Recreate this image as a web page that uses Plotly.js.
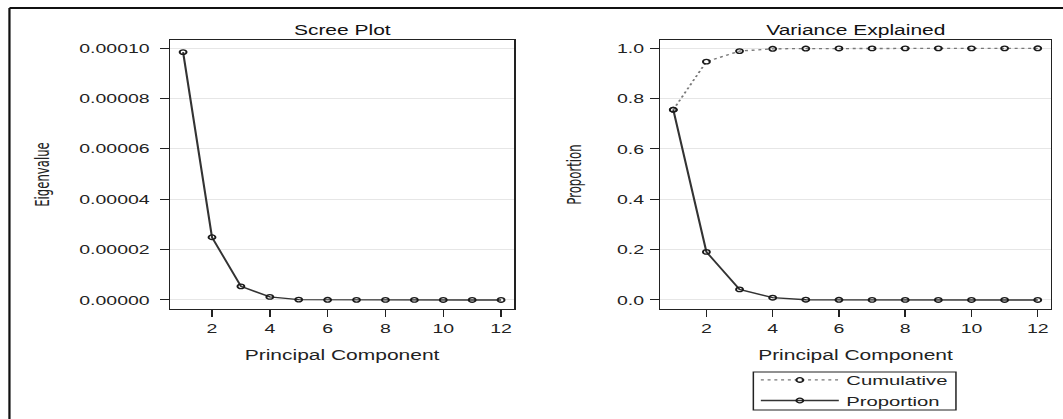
<!DOCTYPE html>
<html>
<head>
<meta charset="utf-8">
<script src="https://cdn.plot.ly/plotly-3.0.1.min.js"></script>
<style>
  html, body { margin: 0; padding: 0; background: #fff; overflow: hidden; }
  #wrap { width: 1063px; height: 419px; overflow: hidden; }
  #chart { width: 709px; height: 419px; transform: scaleX(1.4993); transform-origin: 0 0; }
</style>
</head>
<body>
<div id="wrap"><div id="chart"></div></div>
<script>
// ---- data ----
const components = [1, 2, 3, 4, 5, 6, 7, 8, 9, 10, 11, 12];
const eigenvalues = [0.0000984, 0.0000249, 0.0000054, 0.0000012, 0.00000013, 0.00000006,
                     0.00000003, 0.00000001, 0.000000007, 0.000000003, 0.000000001, 0.0000000005];
const proportion = [0.756, 0.191, 0.042, 0.009, 0.001, 0.0005, 0.0002, 0.0001, 0.00005, 0.00002, 0.00001, 0.0];
const cumulative = [0.756, 0.947, 0.989, 0.998, 0.999, 0.9995, 0.9997, 0.9998, 0.99985, 0.99987, 0.99988, 1.0];
const panelTitles = ['Scree Plot', 'Variance Explained'];
const xTitle = 'Principal Component';
const yTitles = ['Eigenvalue', 'Proportion'];
const seriesNames = ['Cumulative', 'Proportion'];

const FONT = 'Liberation Sans, Arial, sans-serif';
const NARROW = 'Liberation Sans Narrow, Arial Narrow, DejaVu Sans Condensed, Liberation Sans, sans-serif';
const INK = '#222';

const markerStyle = {symbol: 'circle-open', size: 4.6, color: '#1a1a1a', line: {width: 1.3, color: '#1a1a1a'}};

const traces = [
  {x: components, y: eigenvalues, xaxis: 'x', yaxis: 'y', mode: 'lines+markers', showlegend: false,
   line: {color: '#333', width: 1.4}, marker: markerStyle, name: 'Eigenvalue'},
  {x: components, y: cumulative, xaxis: 'x2', yaxis: 'y2', mode: 'lines+markers', name: seriesNames[0],
   line: {color: '#777', width: 1.3, dash: '2px,2.5px'}, marker: markerStyle},
  {x: components, y: proportion, xaxis: 'x2', yaxis: 'y2', mode: 'lines+markers', name: seriesNames[1],
   line: {color: '#333', width: 1.4}, marker: markerStyle}
];

function xAxis(domain, range) {
  return {domain: domain, range: range, tick0: 0, dtick: 2, ticks: 'outside', ticklen: 7, tickwidth: 1,
    tickcolor: INK, showline: true, mirror: true, linecolor: INK, linewidth: 1, showgrid: false,
    zeroline: false, automargin: false, tickfont: {family: FONT, size: 13, color: INK},
    title: {text: xTitle, font: {family: FONT, size: 14, color: INK}, standoff: 15}};
}
function yAxis(domain, range, dtick, fmt, title, standoff, lblStand) {
  return {domain: domain, range: range, dtick: dtick, tickformat: fmt, ticks: 'outside', ticklen: 6,
    tickwidth: 1, tickcolor: INK, showline: true, mirror: true, linecolor: INK, linewidth: 1,
    showgrid: true, gridcolor: '#e6e6e6', gridwidth: 1, zeroline: false, automargin: false,
    ticklabelstandoff: lblStand,
    tickfont: {family: FONT, size: 13, color: INK},
    title: {text: title, font: {family: NARROW, size: 13, color: INK}, standoff: standoff}};
}

const yDom = [0.2625, 0.9045];
const layout = {
  width: 709, height: 419,
  margin: {l: 0, r: 0, t: 0, b: 0},
  paper_bgcolor: '#fff', plot_bgcolor: '#fff',
  font: {family: FONT, color: INK},
  xaxis: xAxis([0.160, 0.4836], [0.55, 12.45]),
  yaxis: yAxis(yDom, [-0.0000036, 0.0001032], 0.00002, '.5f', yTitles[0], 16, 4),
  xaxis2: Object.assign(xAxis([0.6209, 0.9887], [0.6, 12.4]), {anchor: 'y2'}),
  yaxis2: Object.assign(yAxis(yDom, [-0.036, 1.033], 0.2, '.1f', yTitles[1], 20, 1), {anchor: 'x2'}),
  showlegend: true,
  legend: {x: 0.7087, y: 0.0055, xanchor: 'left', yanchor: 'bottom', borderwidth: 0,
    bgcolor: 'rgba(0,0,0,0)', font: {family: FONT, size: 13.5, color: INK}, tracegroupgap: 0,
    traceorder: 'normal', itemwidth: 52},
  annotations: [
    {text: panelTitles[0], xref: 'x domain', yref: 'y domain', x: 0.5, y: 1, xanchor: 'center', yanchor: 'bottom',
     showarrow: false, font: {family: FONT, size: 14, color: '#111'}, yshift: 0},
    {text: panelTitles[1], xref: 'x2 domain', yref: 'y2 domain', x: 0.5, y: 1, xanchor: 'center', yanchor: 'bottom',
     showarrow: false, font: {family: FONT, size: 14, color: '#111'}, yshift: 0}
  ],
  shapes: [
    // outer frame (top and left edges)
    {type: 'line', xref: 'paper', yref: 'paper', x0: 0.00889, x1: 1.01, y0: 0.9809, y1: 0.9809,
     line: {color: '#111', width: 2}},
    {type: 'line', xref: 'paper', yref: 'paper', x0: 0.00889, x1: 0.00889, y0: -0.01, y1: 0.9809,
     line: {color: '#111', width: 1.5}},
    // legend frame
    {type: 'rect', xref: 'paper', yref: 'paper', x0: 0.7087, x1: 0.8993, y0: 0.0215, y1: 0.1122,
     line: {color: INK, width: 1}, fillcolor: 'rgba(0,0,0,0)', layer: 'above'}
  ]
};

Plotly.newPlot('chart', traces, layout, {displayModeBar: false, staticPlot: true});
</script>
</body>
</html>
